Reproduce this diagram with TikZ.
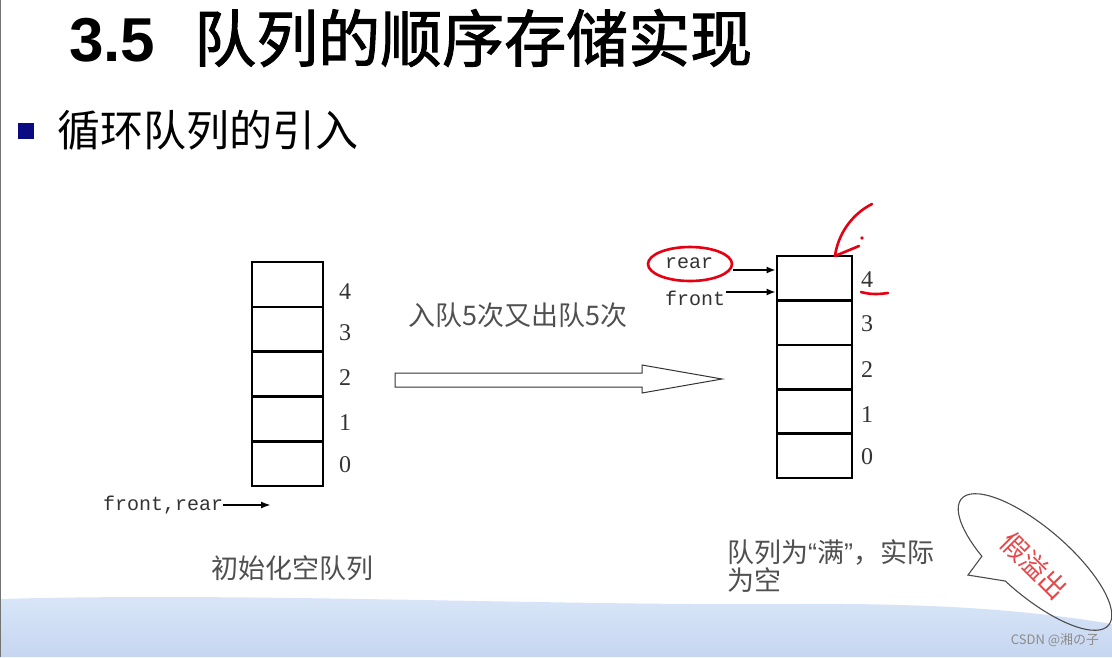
\documentclass[tikz,border=0pt]{standalone}
\usepackage{fontspec}
\setmainfont{Liberation Serif}
\newfontfamily\cjk{Noto Sans CJK SC}
\newfontfamily\cjktitle[FakeBold=1.6]{Noto Sans CJK SC}
\newfontfamily\arialf{Liberation Sans}
\newfontfamily\monof{Liberation Mono}
\usetikzlibrary{arrows.meta}
\definecolor{bandA}{HTML}{DAE7F9}
\definecolor{bandB}{HTML}{C6D6F0}
\definecolor{capgray}{HTML}{505050}
\definecolor{handred}{HTML}{E60012}
\definecolor{fakered}{HTML}{E8474A}
\definecolor{bulletblue}{HTML}{0A0A82}
\begin{document}
\begin{tikzpicture}[x=1pt,y=-1pt,
  cellL/.style={draw=black, line width=2.6pt, minimum width=71pt, minimum height=44.8pt, inner sep=0pt},
  cellR/.style={cellL, minimum width=75pt, minimum height=44.4pt},
  idx/.style={font=\fontsize{24}{24}\selectfont, text=black!80, inner sep=0pt},
  ptr/.style={-{Latex[length=9pt,width=7pt]}, line width=1.8pt},
  monolab/.style={font=\monof\fontsize{20}{20}\selectfont, text=black!80, inner sep=0pt},
  captext/.style={font=\cjk\fontsize{27}{27}\selectfont, text=capgray, inner sep=0pt},
  hand/.style={draw=handred, line width=2.6pt, line cap=round, line join=round}
]
\useasboundingbox (0,0) rectangle (1112,657);
\fill[white] (0,0) rectangle (1112,657);
% bottom band
\shade[top color=bandA, bottom color=bandB] (0,599) .. controls (250,592) and (550,606) .. (800,604) .. controls (950,603) and (1040,612) .. (1112,624) -- (1112,657) -- (0,657) -- cycle;
\draw[black!55, line width=1.2pt] (0.6,0) -- (0.6,657);

% title
\node[anchor=west, inner sep=0pt, font=\arialf\bfseries\fontsize{62}{62}\selectfont] (num) at (69,40) {3.5};
\node[anchor=west, inner sep=0pt, font=\cjktitle\fontsize{62}{62}\selectfont] (title) at (194,38) {队列的顺序存储实现};
% subtitle
\node[fill=bulletblue, minimum size=16pt, inner sep=0pt] (bullet) at (26,131) {};
\node[anchor=west, inner sep=0pt, font=\cjk\fontsize{43}{43}\selectfont] (sub) at (57,130) {循环队列的引入};

% left stack
\foreach \i/\y in {4/284.4,3/329.2,2/374,1/418.8,0/463.6}
  \node[cellL] (L\i) at (287.5,\y) {};
\foreach \i/\y in {4/292,3/333,2/378,1/423,0/465}
  \node[idx] (Ln\i) at (345,\y) {\i};
\node[monolab, anchor=west] (fr) at (103,505) {front,rear};
\coordinate (frEnd) at (271,505);
\draw[-{Latex[length=10pt,width=7pt]}, line width=1.8pt] (fr.east) -- (frEnd);
\node[captext] (capL) at (292,568) {初始化空队列};

% middle
\node[captext, anchor=west] (op) at (408,315) {入队5次又出队5次};
\draw[line width=1pt, draw=black!80, fill=white] (395,373) -- (642,373) -- (642,365) -- (722,379) -- (642,393) -- (642,387) -- (395,387) -- cycle;

% right stack
\foreach \i/\y in {4/278.2,3/322.6,2/367,1/411.4,0/455.8}
  \node[cellR] (R\i) at (814.5,\y) {};
\foreach \i/\y in {4/280,3/324,2/370,1/415,0/457}
  \node[idx] (Rn\i) at (867,\y) {\i};
\node[monolab] (rear) at (689,263) {rear};
\node[monolab] (front) at (695,298) {front};
\coordinate (rearTail) at (733,270);
\coordinate (frontTail) at (726,292);
\draw[ptr] (rearTail) -- (rearTail -| R4.west);
\draw[ptr] (frontTail) -- (frontTail -| R4.west);
\node[captext, anchor=west] (capR1) at (727,552) {队列为{\arialf “}满{\arialf ”}，实际};
\node[captext, anchor=west] (capR2) at (727,580) {为空};

% red hand annotations
\draw[hand] (690,264) ellipse [x radius=42, y radius=17];
\draw[hand] (872,204) .. controls (852,214) and (838,234) .. (835,256);
\draw[hand] (835,256) -- (859,246);
\fill[handred] (862,238) circle (1.8);
\draw[hand] (861,292) .. controls (872,295) and (880,294) .. (888,293);

% callout bubble
\begin{scope}[shift={(1035,562)}, rotate=-40.7]
  \draw[line width=1.1pt, draw=black!70] (117:97 and 34) arc[start angle=117, end angle=456, x radius=97, y radius=34] -- (-42.3,53.6) -- cycle;
\end{scope}
\node[font=\cjk\fontsize{27}{27}\selectfont, text=fakered, rotate=-45, inner sep=0pt] (fake) at (1034,566) {假溢出};

\node[font=\cjk\fontsize{13}{13}\selectfont, text=black!45, inner sep=0pt] (wm) at (1055,640) {CSDN @湘の子};
\end{tikzpicture}
\end{document}
